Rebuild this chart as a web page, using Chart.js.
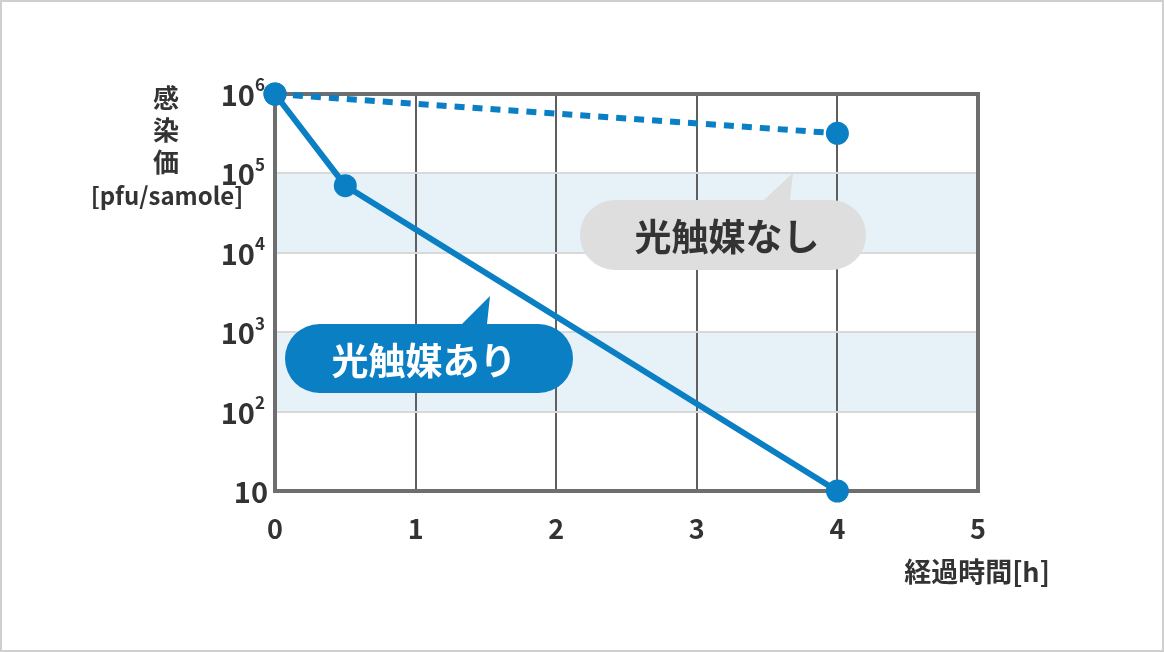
<!DOCTYPE html>
<html>
<head>
<meta charset="utf-8">
<script src="https://cdn.jsdelivr.net/npm/chart.js@4/dist/chart.umd.min.js"></script>
<style>
    html, body { margin: 0; padding: 0; background: #fff; }
    #wrap { width: 1164px; height: 652px; position: relative; }
</style>
</head>
<body>
<div id="wrap"><canvas id="grafico" width="1164" height="652"></canvas></div>
<script>
// DATOS
var tiempoConCatalizador = [0, 0.5, 4];
var valorConCatalizador = [1e6, 7e4, 10];
var tiempoSinCatalizador = [0, 4];
var valorSinCatalizador = [1e6, 3.2e5];
var ticksX = [0, 1, 2, 3, 4, 5];
var ticksY = [10, 1e2, 1e3, 1e4, 1e5, 1e6];
var etiquetasY = ['10', '10|2', '10|3', '10|4', '10|5', '10|6'];
var bandas = [[1e4, 1e5], [1e2, 1e3]];

var FUENTE = '"Noto Sans CJK JP", "Noto Sans", sans-serif';
var AZUL = '#0a7fc4';
var TEXTO = '#333333';

function puntos(xs, ys) {
    return xs.map(function (x, i) { return { x: x, y: ys[i] }; });
}

function pill(ctx, x1, y1, x2, y2, colaBase1, colaBase2, colaPunta) {
    var r = (y2 - y1) / 2;
    ctx.beginPath();
    ctx.moveTo(x1 + r, y1);
    ctx.lineTo(colaBase1, y1);
    ctx.lineTo(colaPunta[0], colaPunta[1]);
    ctx.lineTo(colaBase2, y1);
    ctx.lineTo(x2 - r, y1);
    ctx.arc(x2 - r, y1 + r, r, -Math.PI / 2, Math.PI / 2);
    ctx.lineTo(x1 + r, y2);
    ctx.arc(x1 + r, y1 + r, r, Math.PI / 2, Math.PI * 1.5);
    ctx.closePath();
    ctx.fill();
}

// PLUGIN DE DECORACION
var decoracion = {
    id: 'decoracion',
    beforeDraw: function (chart) {
        var ctx = chart.ctx;
        var area = chart.chartArea;
        var y = chart.scales.y;
        ctx.save();
        ctx.fillStyle = '#e6f1f8';
        bandas.forEach(function (b) {
            var yTop = y.getPixelForValue(b[1]);
            var yBot = y.getPixelForValue(b[0]);
            ctx.fillRect(area.left, yTop, area.right - area.left, yBot - yTop);
        });
        // marco exterior
        ctx.strokeStyle = '#cfcfcf';
        ctx.lineWidth = 2;
        ctx.strokeRect(1, 1, chart.width - 2, chart.height - 2);
        ctx.restore();
    },
    beforeDatasetsDraw: function (chart) {
        var ctx = chart.ctx;
        var area = chart.chartArea;
        var y = chart.scales.y;
        ctx.save();
        // borde del grafico
        ctx.strokeStyle = '#6e6e6e';
        ctx.lineWidth = 4;
        ctx.strokeRect(area.left, area.top, area.right - area.left, area.bottom - area.top);

        // etiquetas del eje Y con exponente
        ctx.fillStyle = TEXTO;
        ctx.textBaseline = 'middle';
        ticksY.forEach(function (v, i) {
            var partes = etiquetasY[i].split('|');
            var py = y.getPixelForValue(v);
            var derecha = 265;
            ctx.font = 'bold 17px ' + FUENTE;
            var anchoExp = partes[1] ? ctx.measureText(partes[1]).width : 0;
            if (partes[1]) {
                ctx.textAlign = 'right';
                ctx.fillText(partes[1], derecha, py - 9);
            } else {
                anchoExp = -3;
            }
            ctx.font = 'bold 29px ' + FUENTE;
            ctx.textAlign = 'right';
            ctx.fillText(partes[0], derecha - anchoExp, py + 1);
        });

        // titulo eje Y
        ctx.font = 'bold 26px ' + FUENTE;
        ctx.textAlign = 'center';
        ['感', '染', '価'].forEach(function (c, i) {
            ctx.fillText(c, 166, 98 + i * 32);
        });
        ctx.font = 'bold 24px ' + FUENTE;
        ctx.fillText('[pfu/samole]', 167, 196);

        // titulo eje X
        ctx.font = 'bold 27px ' + FUENTE;
        ctx.textAlign = 'center';
        ctx.fillText('経過時間[h]', 977, 572);
        ctx.restore();
    },
    afterDatasetsDraw: function (chart) {
        var ctx = chart.ctx;
        ctx.save();
        // globo gris
        ctx.fillStyle = '#dedede';
        pill(ctx, 580, 200, 866, 270, 764, 790, [793, 173]);
        ctx.fillStyle = TEXTO;
        ctx.font = 'bold 37px ' + FUENTE;
        ctx.textAlign = 'center';
        ctx.textBaseline = 'middle';
        ctx.fillText('光触媒なし', 727, 237);
        // globo azul
        ctx.fillStyle = AZUL;
        pill(ctx, 285, 324, 573, 393, 462, 487, [490, 296]);
        ctx.fillStyle = '#ffffff';
        ctx.fillText('光触媒あり', 424, 361);
        ctx.restore();
    }
};

var ctx = document.getElementById('grafico').getContext('2d');
var grafico = new Chart(ctx, {
    type: 'scatter',
    data: {
        datasets: [{
            label: '光触媒なし',
            data: puntos(tiempoSinCatalizador, valorSinCatalizador),
            showLine: true,
            borderColor: AZUL,
            backgroundColor: AZUL,
            borderWidth: 6,
            borderDash: [10, 8],
            pointRadius: 11.5,
            pointHoverRadius: 11.5,
            pointBorderWidth: 0,
            clip: false
        }, {
            label: '光触媒あり',
            data: puntos(tiempoConCatalizador, valorConCatalizador),
            showLine: true,
            borderColor: AZUL,
            backgroundColor: AZUL,
            borderWidth: 6,
            pointRadius: 11.5,
            pointHoverRadius: 11.5,
            pointBorderWidth: 0,
            clip: false
        }]
    },
    options: {
        responsive: false,
        animation: false,
        devicePixelRatio: 1,
        layout: { padding: { left: 0, right: 186, top: 94, bottom: 0 } },
        plugins: {
            legend: { display: false },
            tooltip: { enabled: false }
        },
        scales: {
            x: {
                type: 'linear',
                min: 0,
                max: 5,
                afterFit: function (scale) { scale.height = 161; },
                afterBuildTicks: function (scale) {
                    scale.ticks = ticksX.map(function (v) { return { value: v }; });
                },
                grid: { color: '#5f5f5f', lineWidth: 2, drawTicks: false },
                border: { display: false },
                ticks: {
                    padding: 22,
                    color: TEXTO,
                    font: { family: FUENTE, size: 27, weight: 'bold' }
                }
            },
            y: {
                type: 'logarithmic',
                min: 10,
                max: 1e6,
                afterFit: function (scale) { scale.width = 275; },
                afterBuildTicks: function (scale) {
                    scale.ticks = ticksY.map(function (v) { return { value: v }; });
                },
                grid: { color: '#d9d9d9', lineWidth: 2, drawTicks: false },
                border: { display: false },
                ticks: { display: false }
            }
        }
    },
    plugins: [decoracion]
});
</script>
</body>
</html>
